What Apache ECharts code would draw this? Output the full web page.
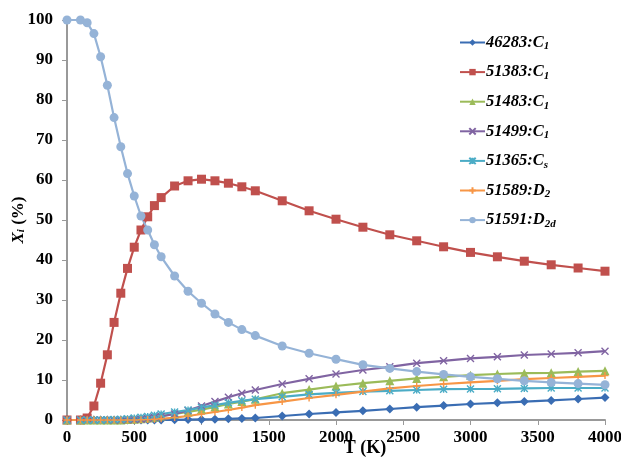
<!DOCTYPE html>
<html>
<head>
<meta charset="utf-8">
<script src="https://cdn.jsdelivr.net/npm/echarts@6/dist/echarts.min.js"></script>
<style>
  html, body { margin: 0; padding: 0; background: #fff; }
  #chart { width: 621px; height: 461px; }
</style>
</head>
<body>
<div id="chart"></div>
<script>
// temperature points (K)
const temps = [0, 100, 150, 200, 250, 300, 350, 400, 450, 500, 550, 600, 650, 700,
  800, 900, 1000, 1100, 1200, 1300, 1400, 1600, 1800, 2000, 2200, 2400, 2600,
  2800, 3000, 3200, 3400, 3600, 3800, 4000]

// mole fractions (%) per isomer
const s46283 = [0, 0, 0, 0, 0, 0, 0, 0, 0, 0, 0, 0, 0, 0,
  0.05, 0.1, 0.15, 0.2, 0.3, 0.4, 0.5, 1.0, 1.5, 1.9, 2.3, 2.75, 3.2,
  3.6, 4.0, 4.3, 4.6, 4.9, 5.25, 5.6]
const s51383 = [0, 0, 0.5, 3.5, 9.2, 16.3, 24.4, 31.7, 37.9, 43.2, 47.5, 50.8, 53.6, 55.6,
  58.5, 59.8, 60.2, 59.8, 59.2, 58.3, 57.3, 54.8, 52.3, 50.2, 48.2, 46.3, 44.8,
  43.3, 41.9, 40.8, 39.7, 38.8, 38.0, 37.2]
const s51483 = [0, 0, 0, 0, 0, 0, 0, 0, 0.1, 0.2, 0.3, 0.5, 0.7, 1.0,
  1.5, 2.0, 2.6, 3.3, 4.0, 4.6, 5.2, 6.7, 7.6, 8.5, 9.2, 9.8, 10.4,
  10.8, 11.2, 11.5, 11.7, 11.8, 12.1, 12.3]
const s51499 = [0, 0, 0, 0, 0, 0, 0, 0, 0.05, 0.1, 0.2, 0.4, 0.6, 0.9,
  1.5, 2.4, 3.5, 4.6, 5.7, 6.7, 7.5, 9.0, 10.3, 11.5, 12.5, 13.3, 14.2,
  14.8, 15.4, 15.8, 16.25, 16.5, 16.8, 17.2]
const s51365 = [0, 0, 0, 0, 0, 0.05, 0.1, 0.2, 0.3, 0.5, 0.7, 0.9, 1.2, 1.5,
  2.0, 2.5, 3.1, 3.7, 4.3, 4.8, 5.2, 5.8, 6.4, 6.8, 7.1, 7.3, 7.5,
  7.7, 7.75, 7.8, 7.9, 8.0, 8.0, 8.0]
const s51589 = [0, 0, 0, 0, 0, 0, 0, 0, 0, 0, 0.05, 0.1, 0.2, 0.3,
  0.6, 1.0, 1.5, 2.0, 2.5, 3.1, 3.7, 4.6, 5.5, 6.3, 7.1, 7.9, 8.5,
  9.0, 9.4, 9.8, 10.2, 10.5, 10.8, 11.1]
const s51591 = [100, 100, 99.3, 96.6, 90.8, 83.7, 75.6, 68.3, 61.6, 56, 51, 47.5, 43.8, 40.8,
  36, 32.2, 29.2, 26.5, 24.4, 22.6, 21.1, 18.5, 16.7, 15.2, 13.8, 12.9, 12.1,
  11.4, 10.8, 10.3, 9.8, 9.4, 9.1, 8.8]

const seriesNames = ['46283:C1', '51383:C1', '51483:C1', '51499:C1', '51365:Cs', '51589:D2', '51591:D2d']
// rich legend labels, subscript part split off
const legendLabels = {
  '46283:C1': ['46283:C', '1'],
  '51383:C1': ['51383:C', '1'],
  '51483:C1': ['51483:C', '1'],
  '51499:C1': ['51499:C', '1'],
  '51365:Cs': ['51365:C', 's'],
  '51589:D2': ['51589:D', '2'],
  '51591:D2d': ['51591:D', '2d']
}

const serif = '"Liberation Serif", "Times New Roman", serif'

const chart = echarts.init(document.getElementById('chart'))

function pairs(vals) {
  return temps.map((t, i) => [t, vals[i]])
}

function makeSeries(name, vals, color, symbol, size, stroke) {
  return {
    name: name,
    type: 'line',
    data: pairs(vals),
    symbol: symbol,
    symbolSize: size,
    showSymbol: true,
    lineStyle: { color: color, width: 2.2 },
    itemStyle: stroke
      ? { color: 'none', borderColor: color, borderWidth: 1.4 }
      : { color: color, borderColor: color, borderWidth: 0 },
    emphasis: { disabled: true },
    animation: false
  }
}

const xPath = 'path://M0,0L10,10M10,0L0,10'
const starPath = 'path://M0,0L10,10M10,0L0,10M5,0L5,10'
const plusPath = 'path://M0,5L10,5M5,0L5,10'

const option = {
  backgroundColor: '#fff',
  grid: { left: 67, right: 16, top: 20, bottom: 41, outerBoundsMode: 'none', containLabel: false },
  legend: {
    orient: 'vertical',
    left: 454,
    top: 29,
    itemGap: 11.6,
    itemWidth: 25,
    itemHeight: 8,
    data: seriesNames,
    formatter: function (name) {
      const p = legendLabels[name]
      return '{b|' + p[0] + '}{s|' + p[1] + '}'
    },
    textStyle: {
      padding: [0, 0, 0, -4],
      rich: {
        b: { fontFamily: serif, fontWeight: 'bold', fontStyle: 'italic', fontSize: 16.5, color: '#000', lineHeight: 19 },
        s: { fontFamily: serif, fontWeight: 'bold', fontStyle: 'italic', fontSize: 11, color: '#000', lineHeight: 19, verticalAlign: 'bottom', padding: [6, 0, 0, 0] }
      }
    }
  },
  xAxis: {
    type: 'value',
    min: 0,
    max: 4000,
    interval: 500,
    name: 'T (K)',
    nameLocation: 'middle',
    nameGap: 19,
    nameMoveOverlap: false,
    nameTextStyle: { fontFamily: serif, fontWeight: 'bold', fontSize: 18, color: '#000', padding: [0, 0, 0, 58] },
    axisLine: { lineStyle: { color: '#999', width: 2 } },
    axisTick: { show: true, length: 5, lineStyle: { color: '#999' } },
    axisLabel: { fontFamily: serif, fontWeight: 'bold', fontSize: 17, color: '#000', margin: 9, formatter: v => String(v) },
    splitLine: { show: false }
  },
  yAxis: {
    type: 'value',
    min: 0,
    max: 100,
    interval: 10,
    name: '{x|X}{i|i}{p| (%)}',
    nameLocation: 'middle',
    nameRotate: 90,
    nameGap: 40,
    nameMoveOverlap: false,
    nameTextStyle: {
      rich: {
        x: { fontFamily: serif, fontWeight: 'bold', fontStyle: 'italic', fontSize: 17, color: '#000' },
        i: { fontFamily: serif, fontWeight: 'bold', fontStyle: 'italic', fontSize: 11, color: '#000', verticalAlign: 'bottom', padding: [6, 0, 0, 0] },
        p: { fontFamily: serif, fontWeight: 'bold', fontSize: 17, color: '#000' }
      }
    },
    axisLine: { show: true, lineStyle: { color: '#999', width: 2 } },
    axisTick: { show: true, length: 5, lineStyle: { color: '#999' } },
    axisLabel: { fontFamily: serif, fontWeight: 'bold', fontSize: 17, color: '#000', margin: 14 },
    splitLine: { show: false }
  },
  series: [
    makeSeries('46283:C1', s46283, '#3A6DB3', 'diamond', 9, false),
    makeSeries('51383:C1', s51383, '#C0504D', 'rect', 9, false),
    makeSeries('51483:C1', s51483, '#9BBB59', 'triangle', 9, false),
    makeSeries('51499:C1', s51499, '#8064A2', xPath, 7, true),
    makeSeries('51365:Cs', s51365, '#4BACC6', starPath, 7, true),
    makeSeries('51589:D2', s51589, '#F79646', plusPath, 7, true),
    makeSeries('51591:D2d', s51591, '#95B3D7', 'circle', 9, false)
  ]
}

chart.setOption(option)
</script>
</body>
</html>
